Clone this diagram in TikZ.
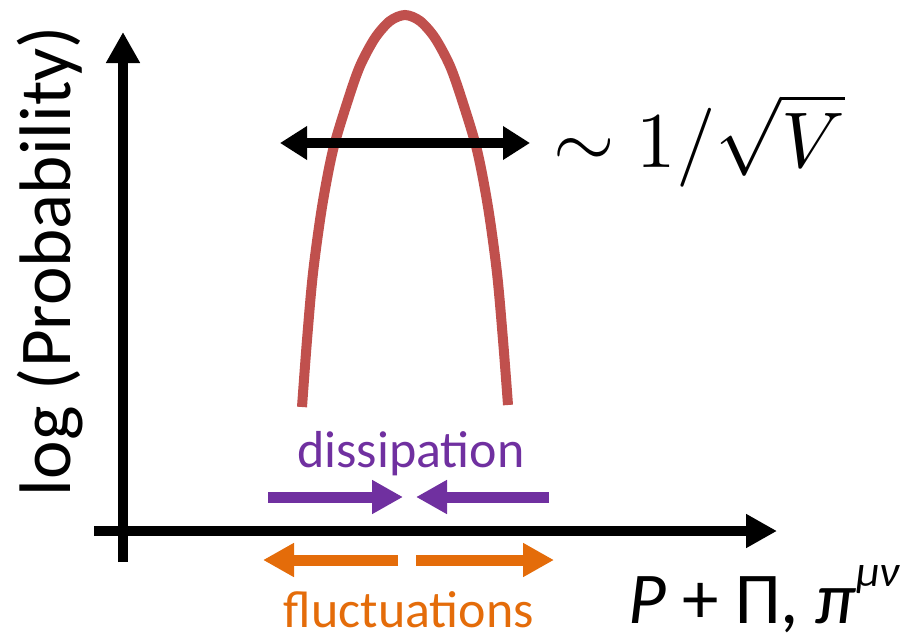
\documentclass[tikz,border=0pt]{standalone}
\usepackage{fontspec}
\setmainfont{Carlito}
\usepackage{amsmath}
\usepackage{graphicx}
\usetikzlibrary{positioning, arrows.meta}
\definecolor{curvered}{HTML}{C0504D}
\definecolor{disspurple}{HTML}{7030A0}
\definecolor{fluctorange}{HTML}{E46C0A}

\begin{document}
\begin{tikzpicture}[x=1pt, y=-1pt, >={Triangle[length=31pt,width=32pt]}]
    % Stili
    \tikzstyle{axisline} = [line width=10pt, ->]
    \tikzstyle{diss} = [line width=11pt, ->, disspurple]
    \tikzstyle{fluct} = [line width=11pt, ->, fluctorange]
    \tikzstyle{lbl} = [inner sep=0pt, font=\fontsize{73}{80}\selectfont]
    \useasboundingbox (0,0) rectangle (912,634);

    % Assi
    \coordinate (ybot) at (123,562);
    \coordinate (ytop) at (123,32);
    \coordinate (xbeg) at (94,531);
    \coordinate (xend) at (777,531);
    \draw [axisline] (ybot) -- (ytop);
    \draw [axisline] (xbeg) -- (xend);
    \node [lbl, rotate=90, anchor=base] (ylbl) at (70,261) {log (Probability)};
    \node [lbl, anchor=base west] (xlbl) at (628,623) {\textit{P} + Π, \textit{π}\raisebox{37pt}{\fontsize{44}{44}\selectfont\textit{μν}}};

    % Curva
    \draw [curvered, line width=10pt] plot[smooth] coordinates {(302,407) (307,340) (313,273) (322,207) (333,150) (348,100) (360,66) (375,38) (390,21) (405,15) (420,21) (435,38) (450,66) (462,100) (477,150) (488,207) (497,273) (503,340) (508,405)};

    % Larghezza
    \coordinate (wl) at (280,143);
    \coordinate (wr) at (530,143);
    \draw [line width=10pt, <->, >={Triangle[length=27pt,width=32pt]}] (wl) -- (wr);
    \node [anchor=base west, inner sep=0pt] (wlbl) at (553,167) {\scalebox{7.9}{$\sim 1/\sqrt{V}$}};

    % Dissipazione
    \node [text=disspurple, font=\fontsize{52}{60}\selectfont, anchor=base, inner sep=0pt] (dlbl) at (411,467) {dissipation};
    \coordinate (dl) at (268,497);
    \coordinate (dlt) at (403,497);
    \coordinate (dr) at (549,497);
    \coordinate (drt) at (416,497);
    \draw [diss] (dl) -- (dlt);
    \draw [diss] (dr) -- (drt);

    % Fluttuazioni
    \coordinate (fl) at (398,560);
    \coordinate (flt) at (263,560);
    \coordinate (fr) at (416,560);
    \coordinate (frt) at (554,560);
    \draw [fluct] (fl) -- (flt);
    \draw [fluct] (fr) -- (frt);
    \node [text=fluctorange, font=\fontsize{52}{60}\selectfont, anchor=base, inner sep=0pt] (flbl) at (409,627) {fluctuations};

\end{tikzpicture}
\end{document}
